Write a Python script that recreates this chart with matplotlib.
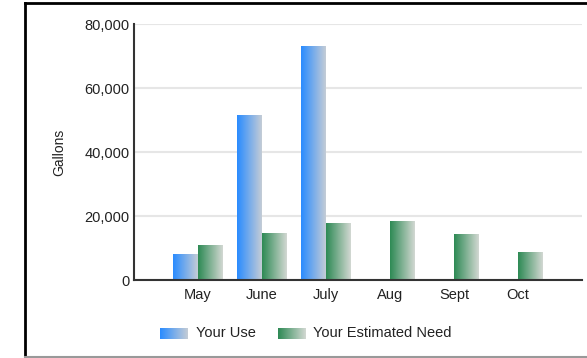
import matplotlib
matplotlib.use("Agg")
import matplotlib.pyplot as plt
import numpy as np
from matplotlib.colors import LinearSegmentedColormap
from matplotlib.lines import Line2D

# ----------------------
# Data
# ----------------------
months = ["May", "June", "July", "Aug", "Sept", "Oct"]
your_use = [8000, 51600, 73200, 0, 0, 0]
estimated_need = [10900, 14600, 17900, 18400, 14500, 8800]
series_names = ["Your Use", "Your Estimated Need"]
y_ticks = [0, 20000, 40000, 60000, 80000]

plt.rcParams["font.family"] = ["Liberation Sans", "DejaVu Sans"]

blue_cmap = LinearSegmentedColormap.from_list("blue", ["#2a8cff", "#c4ccd6"])
green_cmap = LinearSegmentedColormap.from_list("green", ["#2e8a55", "#d2d8d2"])
gradient = np.linspace(0, 1, 64).reshape(1, -1)

fig = plt.figure(figsize=(5.87, 3.58), dpi=100)
ax = fig.add_axes([134 / 587, 1 - 280 / 358, 448 / 587, 256 / 358])

x = np.arange(len(months))
w = 0.39


def gradient_bars(xs, heights, cmap):
    bars = ax.bar(xs, heights, w, color="none", edgecolor="none")
    for bar in bars:
        if bar.get_height() <= 0:
            continue
        bx, by = bar.get_x(), bar.get_y()
        im = ax.imshow(gradient, cmap=cmap, aspect="auto", zorder=2,
                       extent=[bx, bx + bar.get_width(), by, by + bar.get_height()])
        im.set_clip_path(bar)


gradient_bars(x - w / 2, your_use, blue_cmap)
gradient_bars(x + w / 2, estimated_need, green_cmap)

ax.set_xlim(-1, len(months))
ax.set_ylim(0, 80000)
ax.set_yticks(y_ticks)
ax.set_yticklabels([f"{v:,}" for v in y_ticks])
ax.set_xticks(x)
ax.set_xticklabels(months)
ax.tick_params(axis="both", length=0, labelsize=10.5, colors="#222222")
ax.tick_params(axis="x", pad=6)
ax.tick_params(axis="y", pad=3)
ax.yaxis.grid(True, color="#e6e6e6", linewidth=1.5)
ax.set_axisbelow(True)
for side in ["top", "right"]:
    ax.spines[side].set_visible(False)
ax.spines["left"].set_linewidth(1.5)
ax.spines["bottom"].set_linewidth(1.5)
ax.spines["left"].set_color("#333333")
ax.spines["bottom"].set_color("#333333")

fig.text(59 / 587, 1 - 152 / 358, "Gallons", rotation=90, ha="center", va="center",
         fontsize=10, color="#222222")

# legend swatches and labels
for cmap, x0, name, tx in [(blue_cmap, 160, series_names[0], 196),
                           (green_cmap, 278, series_names[1], 313)]:
    sw = fig.add_axes([x0 / 587, 1 - 339 / 358, 28 / 587, 11 / 358])
    sw.imshow(gradient, cmap=cmap, aspect="auto")
    sw.axis("off")
    fig.text(tx / 587, 1 - 333 / 358, name, ha="left", va="center",
             fontsize=10.5, color="#222222")

# outer frame
fig.add_artist(Line2D([24.5 / 587, 24.5 / 587], [0, 1 - 2.5 / 358],
                      transform=fig.transFigure, color="black", linewidth=2))
fig.add_artist(Line2D([24.5 / 587, 1], [1 - 2.5 / 358, 1 - 2.5 / 358],
                      transform=fig.transFigure, color="black", linewidth=2))
fig.add_artist(Line2D([24.5 / 587, 1], [0.8 / 358, 0.8 / 358],
                      transform=fig.transFigure, color="#999999", linewidth=1.5))

fig.savefig("out.png", dpi=100)
